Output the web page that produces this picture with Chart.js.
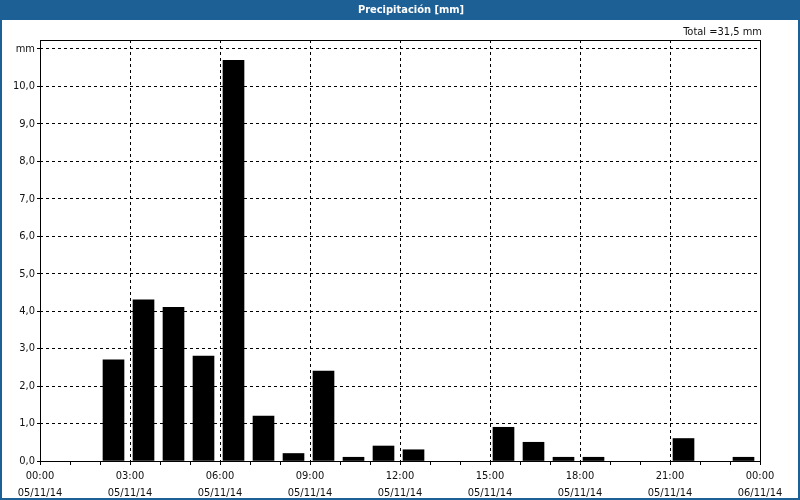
<!DOCTYPE html>
<html><head><meta charset="utf-8">
<script src="https://cdn.jsdelivr.net/npm/chart.js@4"></script>
<style>html,body{margin:0;padding:0;background:#fff}canvas{display:block}</style>
</head><body>
<canvas id="c" width="800" height="500"></canvas>
<script>
const titleText = 'Precipitación [mm]';
const totalLabel = 'Total =31,5 mm';
const hours = [0,1,2,3,4,5,6,7,8,9,10,11,12,13,14,15,16,17,18,19,20,21,22,23];
const precip = [0,0,2.7,4.3,4.1,2.8,10.7,1.2,0.2,2.4,0.1,0.4,0.3,0,0,0.9,0.5,0.1,0.1,0,0,0.6,0,0.1];
const xTickHours = [0,1,2,3,4,5,6,7,8,9,10,11,12,13,14,15,16,17,18,19,20,21,22,23,24];
const xTimeLabels = ['00:00','03:00','06:00','09:00','12:00','15:00','18:00','21:00','00:00'];
const xDateLabels = ['05/11/14','05/11/14','05/11/14','05/11/14','05/11/14','05/11/14','05/11/14','05/11/14','06/11/14'];
const yTicks = [0,1,2,3,4,5,6,7,8,9,10,11];
const yUnitLabel = 'mm';

const FONT = '"DejaVu Sans Condensed", "Liberation Sans", sans-serif';
const BLUE = '#1d6096';

const framePlugin = {
  id: 'frame',
  beforeDraw(chart) {
    const ctx = chart.ctx;
    ctx.save();
    ctx.fillStyle = '#ffffff';
    ctx.fillRect(0, 0, 800, 500);
    ctx.fillStyle = BLUE;
    ctx.fillRect(0, 0, 800, 20);
    ctx.fillRect(0, 0, 2, 500);
    ctx.fillRect(798, 0, 2, 500);
    ctx.fillRect(0, 498, 800, 2);
    ctx.fillStyle = '#ffffff';
    ctx.font = 'bold 11px ' + FONT;
    ctx.textAlign = 'center';
    ctx.textBaseline = 'middle';
    ctx.fillText(titleText, 411, 10.5);
    ctx.fillStyle = '#111';
    ctx.font = '11px ' + FONT;
    ctx.textAlign = 'right';
    ctx.fillText(totalLabel, 762, 32.5);
    ctx.restore();
  },
  afterDraw(chart) {
    const a = chart.chartArea;
    const ctx = chart.ctx;
    ctx.save();
    ctx.strokeStyle = '#000';
    ctx.lineWidth = 1;
    ctx.setLineDash([]);
    ctx.strokeRect(Math.round(a.left) + 0.5, Math.round(a.top) + 0.5, Math.round(a.right - a.left), Math.round(a.bottom - a.top));
    ctx.restore();
  }
};

new Chart(document.getElementById('c'), {
  type: 'bar',
  data: {
    datasets: [{
      data: hours.map((h, i) => ({x: h + 0.45, y: precip[i] === 0 ? null : precip[i]})),
      backgroundColor: '#000',
      borderWidth: 0,
      barThickness: 21
    }]
  },
  options: {
    responsive: false,
    devicePixelRatio: 1,
    animation: false,
    layout: {padding: {top: 40, right: 40, left: 0, bottom: 0}},
    plugins: {legend: {display: false}, tooltip: {enabled: false}, title: {display: false}},
    scales: {
      x: {
        type: 'linear',
        min: 0, max: 24,
        offset: false,
        afterBuildTicks: s => { s.ticks = xTickHours.map(v => ({value: v})); },
        afterFit: s => { s.height = 39; },
        border: {display: false, dash: [3, 3]},
        grid: {
          offset: false,
          color: c => (c.tick && c.tick.value % 3 === 0 && c.tick.value !== 0 && c.tick.value !== 24) ? '#000' : 'rgba(0,0,0,0)',
          tickColor: '#000',
          tickLength: 4,
          tickBorderDash: [],
          lineWidth: 1
        },
        ticks: {
          autoSkip: false,
          maxRotation: 0,
          padding: 3,
          color: '#111',
          font: {family: FONT, size: 11, lineHeight: 1.5},
          callback: v => (v % 3 === 0) ? [xTimeLabels[v / 3], xDateLabels[v / 3]] : ''
        }
      },
      y: {
        type: 'linear',
        min: 0, max: 11.24,
        afterBuildTicks: s => { s.ticks = yTicks.map(v => ({value: v})); },
        afterFit: s => { s.width = 40; },
        border: {display: false, dash: [3, 3]},
        grid: {
          offset: false,
          color: c => (c.tick && c.tick.value !== 0) ? '#000' : 'rgba(0,0,0,0)',
          tickColor: '#000',
          tickLength: 3,
          tickBorderDash: [],
          lineWidth: 1
        },
        ticks: {
          padding: 2,
          color: '#111',
          font: {family: FONT, size: 11},
          callback: v => v === 11 ? yUnitLabel : v.toFixed(1).replace('.', ',')
        }
      }
    }
  },
  plugins: [framePlugin]
});
</script>
</body></html>
